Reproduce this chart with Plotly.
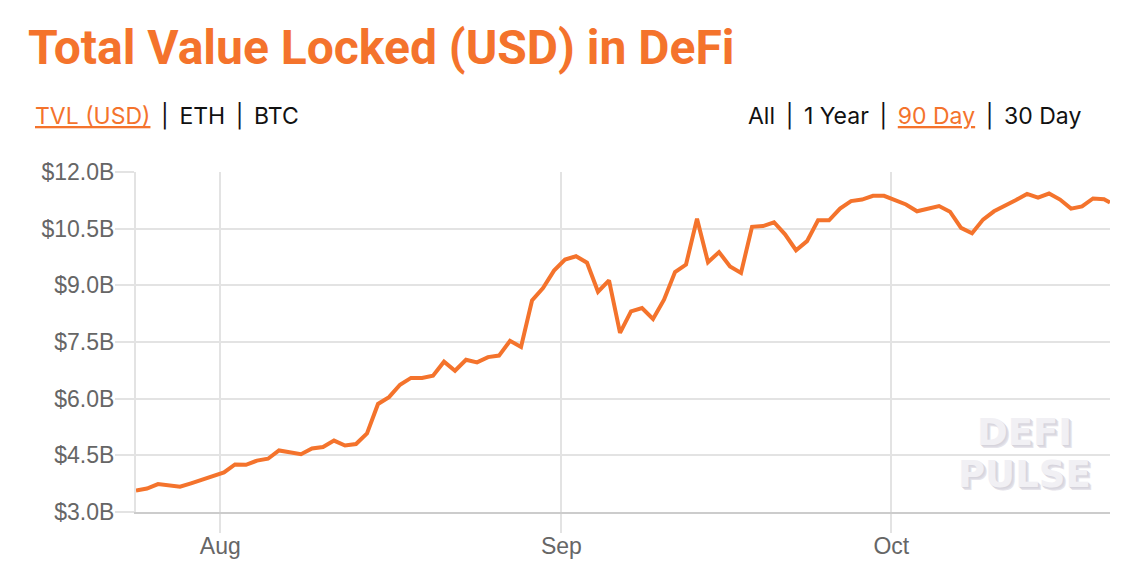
import pandas as pd
import plotly.graph_objects as go

# TVL in billions USD, one reading per day (last one is a partial day)
tvl_b = [3.57, 3.62, 3.74, 3.70, 3.67, 3.76, 3.86, 3.95, 4.05, 4.26,
         4.25, 4.36, 4.41, 4.63, 4.58, 4.53, 4.68, 4.72, 4.89, 4.76,
         4.80, 5.08, 5.86, 6.04, 6.37, 6.55, 6.55, 6.61, 6.98, 6.74,
         7.03, 6.96, 7.10, 7.14, 7.53, 7.37, 8.60, 8.93, 9.39, 9.68,
         9.77, 9.60, 8.83, 9.13, 7.74, 8.31, 8.40, 8.11, 8.62, 9.35,
         9.55, 10.76, 9.61, 9.88, 9.50, 9.33, 10.55, 10.57, 10.67, 10.35,
         9.93, 10.17, 10.72, 10.72, 11.03, 11.23, 11.27, 11.37, 11.37, 11.26,
         11.14, 10.96, 11.02, 11.10, 10.95, 10.52, 10.38, 10.74, 10.96, 11.10,
         11.26, 11.42, 11.32, 11.43, 11.27, 11.03, 11.09, 11.30, 11.28, 11.19]

dates = list(pd.date_range('2020-07-24 08:00', periods=89, freq='D'))
dates.append(pd.Timestamp('2020-10-20 21:00'))

y_ticks = [3.0, 4.5, 6.0, 7.5, 9.0, 10.5, 12.0]
y_labels = ['$3.0B', '$4.5B', '$6.0B', '$7.5B', '$9.0B', '$10.5B', '$12.0B']
x_ticks = ['2020-08-01', '2020-09-01', '2020-10-01']
x_labels = ['Aug', 'Sep', 'Oct']

ORANGE = '#f4732c'
GRID = '#e3e3e3'
SEP = ' \u2009|\u2009 '

fig = go.Figure(
    go.Scatter(
        x=dates,
        y=tvl_b,
        mode='lines',
        line={'color': ORANGE, 'width': 4},
        showlegend=False,
    )
)

# page body has an 8px margin, so the figure is a bit smaller than the window
fig.update_layout(
    width=1132,
    height=566,
    margin={'l': 128, 'r': 30, 't': 164, 'b': 62},
    paper_bgcolor='white',
    plot_bgcolor='white',
    font={'family': 'Liberation Sans, Arial, sans-serif', 'color': '#666666'},
)

fig.update_xaxes(
    range=[dates[0], dates[-1]],
    tickvals=x_ticks,
    ticktext=x_labels,
    tickfont={'size': 23, 'color': '#666666'},
    ticks='outside',
    ticklen=19,
    tickcolor=GRID,
    tickwidth=2,
    ticklabelstandoff=-7,
    showgrid=True,
    gridcolor=GRID,
    gridwidth=2,
    showline=True,
    linecolor='#cccccc',
    linewidth=2,
    zeroline=False,
)
fig.update_yaxes(
    range=[3, 12],
    tickvals=y_ticks,
    ticktext=y_labels,
    tickfont={'size': 23, 'color': '#666666'},
    ticks='outside',
    ticklen=19,
    tickcolor=GRID,
    tickwidth=2,
    ticklabelstandoff=-4,
    showgrid=True,
    gridcolor=GRID,
    gridwidth=2,
    showline=True,
    linecolor=GRID,
    linewidth=2,
    zeroline=False,
)

# Title and the selector links above the plot
fig.add_annotation(
    text='<b>Total Value Locked (USD) in DeFi</b>',
    xref='paper', yref='paper', x=-0.113, y=1.365,
    xanchor='left', yanchor='middle', showarrow=False,
    font={'family': 'Roboto', 'size': 48, 'color': ORANGE},
)
fig.add_annotation(
    text=f'<span style="color:{ORANGE}"><u>TVL (USD)</u></span>{SEP}ETH{SEP}BTC',
    xref='paper', yref='paper', x=-0.106, y=1.165,
    xanchor='left', yanchor='middle', showarrow=False,
    font={'family': 'Inter', 'size': 23, 'color': '#111111'},
)
fig.add_annotation(
    text=f'All{SEP}1 Year{SEP}<span style="color:{ORANGE}"><u>90 Day</u></span>{SEP}30 Day',
    xref='paper', yref='paper', x=0.972, y=1.165,
    xanchor='right', yanchor='middle', showarrow=False,
    font={'family': 'Inter', 'size': 23, 'color': '#111111'},
)

# Watermark
for word, ypos in [('DEFI', 0.235), ('PULSE', 0.11)]:
    fig.add_annotation(
        text=f'<b>{word}</b>',
        xref='paper', yref='paper', x=0.912, y=ypos,
        xanchor='center', yanchor='middle', showarrow=False,
        font={'family': 'DejaVu Sans', 'size': 37, 'color': '#f1f0f4',
              'shadow': '1px 1px 0px #d6d4dc, 2px 2px 0px #dcdae2, 3px 3px 0px #e6e4ea'},
    )

fig.write_html('out.html')
